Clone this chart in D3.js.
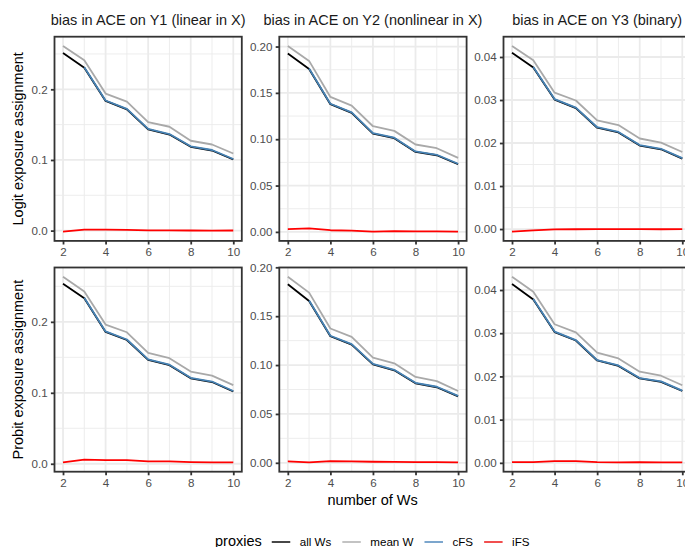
<!DOCTYPE html>
<html><head><meta charset="utf-8">
<script src="https://cdn.jsdelivr.net/npm/d3@7"></script>
<style>body{margin:0;background:#fff} svg text{font-family:"Liberation Sans",Arial,sans-serif}</style>
</head><body><svg id="c" width="685" height="547"></svg>
<script>
const xValues = [2,3,4,5,6,7,8,9,10];
const xTicks = [2,4,6,8,10];
const xMinor = [3,5,7,9];
const seriesNames = ["all Ws","mean W","cFS","iFS"];
const seriesColors = ["#000000","#A9A9A9","#4682B4","#FF0000"];
const legendColors = ["#333333","#BDBDBD","#6E9CC8","#F03C3C"];
const colTitles = ["bias in ACE on Y1 (linear in X)","bias in ACE on Y2 (nonlinear in X)","bias in ACE on Y3 (binary)"];
const rowTitles = ["Logit exposure assignment","Probit exposure assignment"];
const xTitle = "number of Ws";
const legendTitle = "proxies";
const yTicksY1 = [0,0.1,0.2];
const yMinorY1 = [0.05,0.15,0.25];
const yTicksY2 = [0,0.05,0.10,0.15,0.20];
const yMinorY2 = [0.025,0.075,0.125,0.175];
const yTicksY3 = [0,0.01,0.02,0.03,0.04];
const yMinorY3 = [0.005,0.015,0.025,0.035];
const yFormats = [".1f",".2f",".2f"];

const logitY1AllWs = [0.2514,0.2305,0.1835,0.1717,0.1432,0.1360,0.1186,0.1134,0.1006];
const logitY1MeanW = [0.2613,0.2410,0.1940,0.1826,0.1536,0.1470,0.1272,0.1219,0.1091];
const logitY1CFS   = [null,0.2312,0.1842,0.1724,0.1439,0.1367,0.1193,0.1141,0.1013];
const logitY1IFS   = [-0.0014,0.0014,0.0014,0.0010,0.0005,0.0005,0.0002,0.0001,0.0002];

const logitY2AllWs = [0.1924,0.1758,0.1378,0.1284,0.1061,0.1011,0.0863,0.0827,0.0730];
const logitY2MeanW = [0.2006,0.1845,0.1456,0.1363,0.1140,0.1090,0.0943,0.0903,0.0798];
const logitY2CFS   = [null,0.1763,0.1383,0.1289,0.1066,0.1016,0.0868,0.0832,0.0735];
const logitY2IFS   = [0.0029,0.0037,0.0018,0.0013,0.0003,0.0008,0.0006,0.0005,0.0003];

const logitY3AllWs = [0.0410,0.03756,0.0301,0.0281,0.02355,0.02246,0.0194,0.01854,0.01636];
const logitY3MeanW = [0.04256,0.03927,0.0317,0.02988,0.02528,0.02418,0.02105,0.0201,0.0179];
const logitY3CFS   = [null,0.0377,0.03022,0.02822,0.02367,0.02258,0.01952,0.01866,0.01648];
const logitY3IFS   = [-0.0006,-0.0003,-0.0001,-0.00005,0,0,0,-0.00005,0];

const probitY1AllWs = [0.2536,0.2332,0.1858,0.1744,0.1464,0.1389,0.1204,0.1152,0.1019];
const probitY1MeanW = [0.2635,0.2427,0.1962,0.1853,0.1564,0.1488,0.1299,0.1242,0.1109];
const probitY1CFS   = [null,0.2339,0.1865,0.1751,0.1471,0.1396,0.1211,0.1159,0.1026];
const probitY1IFS   = [0.0019,0.0057,0.0052,0.0052,0.0033,0.0033,0.0024,0.0019,0.0019];

const probitY2AllWs = [0.1827,0.1655,0.1295,0.1209,0.1007,0.0946,0.0813,0.0773,0.0680];
const probitY2MeanW = [0.1903,0.1741,0.1374,0.1288,0.1076,0.1018,0.0878,0.0835,0.0734];
const probitY2CFS   = [null,0.1660,0.1300,0.1214,0.1012,0.0951,0.0818,0.0778,0.0685];
const probitY2IFS   = [0.0014,0.0004,0.0018,0.0014,0.0011,0.0009,0.0008,0.0006,0.0004];

const probitY3AllWs = [0.0414,0.0378,0.03027,0.02831,0.02369,0.02243,0.01953,0.01875,0.01663];
const probitY3MeanW = [0.04306,0.0396,0.03208,0.0302,0.02549,0.02416,0.0211,0.02016,0.01796];
const probitY3CFS   = [null,0.0379,0.03037,0.02841,0.02379,0.02253,0.01963,0.01885,0.01673];
const probitY3IFS   = [0.00016,0.00016,0.0004,0.0004,0.00016,0.0001,0.00016,0.0001,0.0001];

const panelData = [
  [[logitY1AllWs,logitY1MeanW,logitY1CFS,logitY1IFS],[logitY2AllWs,logitY2MeanW,logitY2CFS,logitY2IFS],[logitY3AllWs,logitY3MeanW,logitY3CFS,logitY3IFS]],
  [[probitY1AllWs,probitY1MeanW,probitY1CFS,probitY1IFS],[probitY2AllWs,probitY2MeanW,probitY2CFS,probitY2IFS],[probitY3AllWs,probitY3MeanW,probitY3CFS,probitY3IFS]]
];
const yTickSets = [yTicksY1,yTicksY2,yTicksY3];
const yMinorSets = [yMinorY1,yMinorY2,yMinorY3];

// layout
const panelLefts = [54.5, 279.3, 503.5];
const panelTops = [36.7, 267.5];
const pw = 187.3, ph = 204.2;
const lw = 1.8;

const svg = d3.select("#c");
svg.append("rect").attr("width",685).attr("height",547).attr("fill","#fff");

function expand(ext, f){ const d = (ext[1]-ext[0])*f; return [ext[0]-d, ext[1]+d]; }

panelData.forEach((row, r) => {
  row.forEach((series, c) => {
    const x0 = panelLefts[c], y0 = panelTops[r];
    const all = series.flat().filter(v => v !== null);
    const x = d3.scaleLinear().domain(expand(d3.extent(xValues),0.05)).range([x0, x0+pw]);
    const y = d3.scaleLinear().domain(expand(d3.extent(all),0.05)).range([y0+ph, y0]);
    const g = svg.append("g");
    g.append("rect").attr("x",x0).attr("y",y0).attr("width",pw).attr("height",ph).attr("fill","#fff");
    const yMin = yMinorSets[c].filter(v => v >= y.domain()[0] && v <= y.domain()[1]);
    // minor grid
    g.selectAll(".mx").data(xMinor).join("line").attr("x1",d=>x(d)).attr("x2",d=>x(d)).attr("y1",y0).attr("y2",y0+ph).attr("stroke","#EBEBEB").attr("stroke-width",0.9);
    g.selectAll(".my").data(yMin).join("line").attr("y1",d=>y(d)).attr("y2",d=>y(d)).attr("x1",x0).attr("x2",x0+pw).attr("stroke","#EBEBEB").attr("stroke-width",0.9);
    // major grid
    g.selectAll(".Mx").data(xTicks).join("line").attr("x1",d=>x(d)).attr("x2",d=>x(d)).attr("y1",y0).attr("y2",y0+ph).attr("stroke","#EBEBEB").attr("stroke-width",1.8);
    g.selectAll(".My").data(yTickSets[c]).join("line").attr("y1",d=>y(d)).attr("y2",d=>y(d)).attr("x1",x0).attr("x2",x0+pw).attr("stroke","#EBEBEB").attr("stroke-width",1.8);
    // lines
    const line = d3.line().defined(d => d[1] !== null).x(d => x(d[0])).y(d => y(d[1]));
    series.forEach((vals, s) => {
      g.append("path").datum(xValues.map((xv,i) => [xv, vals[i]]))
        .attr("d", line).attr("fill","none").attr("stroke", seriesColors[s])
        .attr("stroke-width", lw).attr("stroke-linejoin","round");
    });
    // border
    g.append("rect").attr("x",x0).attr("y",y0).attr("width",pw).attr("height",ph).attr("fill","none").attr("stroke","#333333").attr("stroke-width",1.8);
    // axes
    const xa = d3.axisBottom(x).tickValues(xTicks).tickSize(3.6).tickPadding(3.2).tickFormat(d3.format("d"));
    const ga = svg.append("g").attr("transform",`translate(0,${y0+ph})`).call(xa);
    ga.select(".domain").remove();
    ga.selectAll("line").attr("stroke","#333333").attr("stroke-width",1.8);
    ga.selectAll("text").attr("fill","#4D4D4D").attr("font-size","11.6px").attr("font-family","Liberation Sans, Arial, sans-serif").attr("dy","0.72em");
    const ya = d3.axisLeft(y).tickValues(yTickSets[c]).tickSize(3.6).tickPadding(3.2).tickFormat(d3.format(yFormats[c]));
    const gy = svg.append("g").attr("transform",`translate(${x0},0)`).call(ya);
    gy.select(".domain").remove();
    gy.selectAll("line").attr("stroke","#333333").attr("stroke-width",1.8);
    gy.selectAll("text").attr("fill","#4D4D4D").attr("font-size","11.6px").attr("font-family","Liberation Sans, Arial, sans-serif");
    if (r === 0) {
      svg.append("text").attr("x", x0+pw/2).attr("y", 25.3).attr("text-anchor","middle")
        .attr("font-size","14.5px").attr("fill","#1A1A1A").text(colTitles[c]);
    }
  });
  svg.append("text").attr("transform",`translate(23,${panelTops[r]+ph/2}) rotate(-90)`)
    .attr("text-anchor","middle").attr("font-size","14.5px").attr("fill","#000").text(rowTitles[r]);
});

svg.append("text").attr("x", (panelLefts[0]+panelLefts[2]+pw)/2).attr("y", 505).attr("text-anchor","middle")
  .attr("font-size","14.5px").attr("fill","#000").text(xTitle);

// legend
const leg = svg.append("g");
let lx = 215;
const ly = 542;
const t = leg.append("text").attr("x", lx).attr("y", ly+3.5).attr("font-size","14.5px").attr("fill","#000").text(legendTitle);
lx += t.node().getComputedTextLength() + 10;
seriesNames.forEach((name, i) => {
  leg.append("line").attr("x1", lx).attr("x2", lx+18.5).attr("y1", ly).attr("y2", ly)
    .attr("stroke", legendColors[i]).attr("stroke-width", 1.8);
  lx += 18.5 + 9.5;
  const tt = leg.append("text").attr("x", lx).attr("y", ly+4.3).attr("font-size","11.6px").attr("fill","#000").text(name);
  lx += tt.node().getComputedTextLength() + 11;
});
</script></body></html>
